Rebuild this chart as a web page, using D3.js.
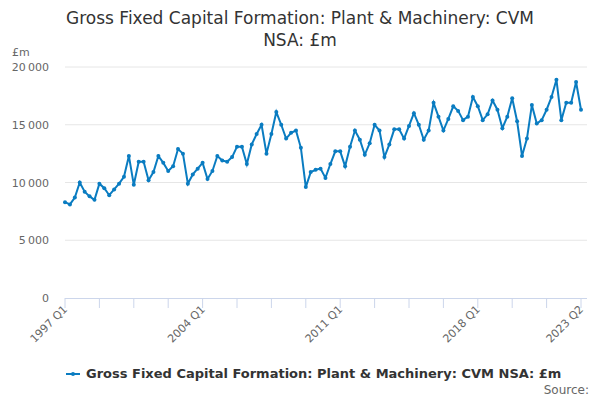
<!DOCTYPE html>
<html><head><meta charset="utf-8">
<script src="https://cdn.jsdelivr.net/npm/d3@7"></script>
<style>body{margin:0;font-family:"DejaVu Sans",sans-serif;}</style>
</head><body>
<svg id="svg" width="600" height="400"></svg>
<script>
// quarterly values, 1997 Q1 .. 2023 Q2
const years = d3.range(1997, 2024);
const values = [
  8300, 8100, 8700, 10000,  9200, 8800, 8500, 9900,  9500, 8900, 9400, 9900,
  10500, 12300, 9800, 11800,  11800, 10200, 10900, 12300,  11700, 11000, 11400, 12900,
  12500, 9900, 10700, 11200,  11700, 10300, 11000, 12300,  11900, 11800, 12200, 13100,
  13100, 11600, 13300, 14200,  15000, 12500, 14200, 16100,  15000, 13800, 14300, 14500,
  13000, 9600, 10900, 11100,  11200, 10400, 11600, 12700,  12700, 11400, 13100, 14500,
  13700, 12400, 13400, 15000,  14500, 12200, 13300, 14600,  14600, 13800, 14900, 16000,
  15000, 13700, 14500, 16900,  15700, 14500, 15500, 16600,  16200, 15400, 15700, 17400,
  16600, 15400, 15900, 17100,  16300, 14700, 15700, 17300,  15300, 12300, 13800, 16700,
  15100, 15400, 16300, 17400,  18900, 15400, 16900, 16900,  18700, 16300
];
const labels = values.map((v, i) => years[Math.floor(i / 4)] + " Q" + (i % 4 + 1));
const tickLabels = ["1997 Q1", "2004 Q1", "2011 Q1", "2018 Q1", "2023 Q2"];
const yTicks = [0, 5000, 10000, 15000, 20000];
const seriesName = "Gross Fixed Capital Formation: Plant & Machinery: CVM NSA: £m";

const svg = d3.select("#svg");
const plotL = 65, plotR = 581, plotT = 67, plotB = 298;
const x = d3.scaleLinear().domain([0, values.length - 1]).range([plotL, plotR]);
const y = d3.scaleLinear().domain([0, 20000]).range([plotB, plotT]);
const fmt = v => d3.format(",")(v).replace(",", "\u2009");

svg.append("text").attr("x", 300).attr("y", 24).attr("text-anchor", "middle")
   .attr("font-size", 17).attr("fill", "#333").text("Gross Fixed Capital Formation: Plant & Machinery: CVM");
svg.append("text").attr("x", 300).attr("y", 46).attr("text-anchor", "middle")
   .attr("font-size", 17).attr("fill", "#333").text("NSA: £m");
svg.append("text").attr("x", 12).attr("y", 56).attr("font-size", 11).attr("fill", "#666").text("£m");

// grid + y labels
yTicks.forEach(t => {
  if (t > 0) svg.append("line").attr("x1", plotL).attr("x2", plotR + 6)
     .attr("y1", y(t)).attr("y2", y(t)).attr("stroke", "#e6e6e6");
  svg.append("text").attr("x", 49).attr("y", y(t) + 4).attr("text-anchor", "end")
     .attr("font-size", 11).attr("fill", "#666").text(fmt(t));
});

// x axis
svg.append("line").attr("x1", plotL).attr("x2", plotR + 6).attr("y1", plotB + 0.5).attr("y2", plotB + 0.5)
   .attr("stroke", "#ccd6eb");
d3.range(0, values.length, 7).forEach(i => {
  svg.append("line").attr("x1", x(i)).attr("x2", x(i)).attr("y1", plotB).attr("y2", plotB + 10)
     .attr("stroke", "#ccd6eb");
});
tickLabels.forEach(l => {
  const i = labels.indexOf(l);
  svg.append("text").attr("transform", `translate(${x(i) + 3},${plotB + 12}) rotate(-45)`)
     .attr("text-anchor", "end").attr("font-size", 11).attr("fill", "#666").text(l);
});

// line
svg.append("path").datum(values)
   .attr("d", d3.line().x((d, i) => x(i)).y(d => y(d)))
   .attr("fill", "none").attr("stroke", "#0a7cc1").attr("stroke-width", 2);
svg.selectAll("circle.pt").data(values).join("circle").attr("class", "pt")
   .attr("cx", (d, i) => x(i)).attr("cy", d => y(d)).attr("r", 2).attr("fill", "#0a7cc1");

// legend
svg.append("line").attr("x1", 66).attr("x2", 80).attr("y1", 374).attr("y2", 374)
   .attr("stroke", "#0a7cc1").attr("stroke-width", 2);
svg.append("circle").attr("cx", 73).attr("cy", 374).attr("r", 2).attr("fill", "#0a7cc1");
svg.append("text").attr("x", 86).attr("y", 378).attr("font-size", 13).attr("font-weight", "bold")
   .attr("fill", "#333").text(seriesName);
svg.append("text").attr("x", 589).attr("y", 394).attr("text-anchor", "end")
   .attr("font-size", 12).attr("fill", "#666").text("Source:");
</script>
</body></html>
